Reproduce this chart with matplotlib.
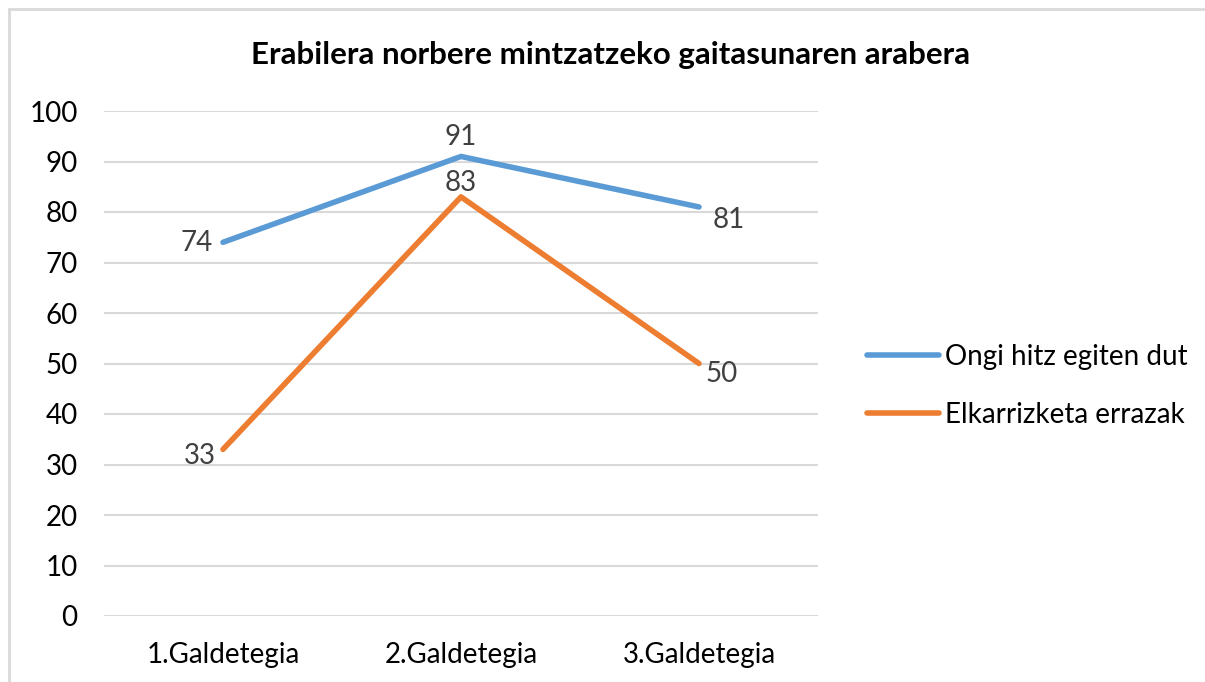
import numpy as np
import matplotlib.pyplot as plt
from matplotlib.patches import Rectangle

# Data
categories = ['1.Galdetegia', '2.Galdetegia', '3.Galdetegia']
ongi = [74, 91, 81]
elkarrizketa = [33, 83, 50]
series_names = ['Ongi hitz egiten dut', 'Elkarrizketa errazak']

plt.rcParams['font.family'] = ['Lato', 'DejaVu Sans']

fig = plt.figure(figsize=(12.05, 6.82), dpi=100)
ax = fig.add_axes([104/1205, 1-616/682, 714/1205, 505/682])

x = np.arange(len(categories))
blue = '#5B9BD5'
orange = '#ED7D31'
ax.plot(x, ongi, color=blue, lw=4, solid_capstyle='round', label=series_names[0], zorder=3)
ax.plot(x, elkarrizketa, color=orange, lw=4, solid_capstyle='round', label=series_names[1], zorder=3)

# data labels
off_ongi = [(-26, -1), (0, 19), (30, -13)]
off_elk = [(-23, -7), (0, 14), (23, -11)]
for xi, v, o in zip(x, ongi, off_ongi):
    ax.annotate(str(v), (xi, v), xytext=o, textcoords='offset pixels',
                ha='center', va='center', fontsize=20, color='#404040')
for xi, v, o in zip(x, elkarrizketa, off_elk):
    ax.annotate(str(v), (xi, v), xytext=o, textcoords='offset pixels',
                ha='center', va='center', fontsize=20, color='#404040')

ax.set_xlim(-0.5, 2.5)
ax.set_ylim(0, 100)
ax.set_yticks(range(0, 101, 10))
ax.set_xticks(x)
ax.set_xticklabels(categories)
ax.yaxis.grid(True, color='#d9d9d9', lw=1.5)
ax.set_axisbelow(True)
for s in ax.spines.values():
    s.set_visible(False)
ax.tick_params(axis='y', length=0, pad=19, labelsize=20, labelcolor='#000000')
ax.tick_params(axis='x', length=0, pad=19, labelsize=20, labelcolor='#000000')

fig.text(0.507, 1-55/682, 'Erabilera norbere mintzatzeko gaitasunaren arabera',
         ha='center', va='center', fontsize=22.5, fontweight='bold')

fig.legend(loc='center left', bbox_to_anchor=(842/1205, 1-386/682), frameon=False,
           fontsize=20, handlelength=2.6, handletextpad=0.2, labelspacing=1.15)

# chart border
fig.patches.append(Rectangle((9/1205, -0.1), 1.2, 1-9/682+0.1, transform=fig.transFigure,
                             fill=False, edgecolor='#d9d9d9', lw=2))

fig.savefig('out.png', dpi=100)
